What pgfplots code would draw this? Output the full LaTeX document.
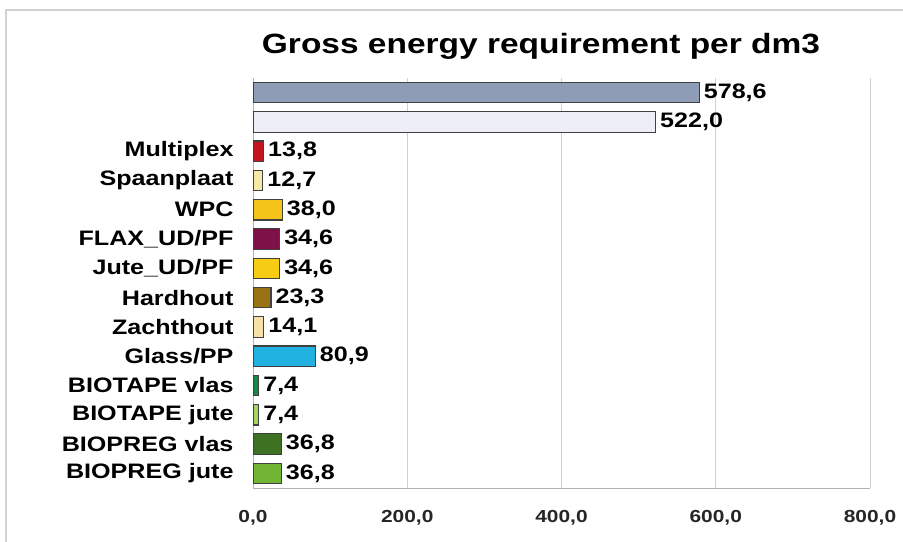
\documentclass[border=0pt]{standalone}
\usepackage{fontspec}
\setmainfont[FakeStretch=1.2]{Liberation Sans}
\usepackage{pgfplots}
\pgfplotsset{compat=1.18}
\definecolor{c1}{HTML}{8E9CB6}
\definecolor{c2}{HTML}{EEEEF8}
\definecolor{c3}{HTML}{C4141E}
\definecolor{c4}{HTML}{F6E8A6}
\definecolor{c5}{HTML}{F5C41A}
\definecolor{c6}{HTML}{7C1248}
\definecolor{c7}{HTML}{F6CC14}
\definecolor{c8}{HTML}{9A7214}
\definecolor{c9}{HTML}{F6E2A4}
\definecolor{c10}{HTML}{22B2E2}
\definecolor{c11}{HTML}{1C8444}
\definecolor{c12}{HTML}{A6D468}
\definecolor{c13}{HTML}{3C7222}
\definecolor{c14}{HTML}{72B434}
\newcommand{\onebar}[3]{\addplot[fill=#1, draw=black!75, line width=1.2bp] coordinates {(#3,#2)};}
\begin{document}
\begin{tikzpicture}
\useasboundingbox (0,0) rectangle (903bp,542bp);
\fill[white] (0,0) rectangle (903bp,542bp);
\draw[black!18, line width=1.5bp] (6bp,0) -- (6bp,532bp) -- (903bp,532bp);
\node[font=\fontsize{28}{32}\selectfont\bfseries] at (541bp,496bp) {Gross energy requirement per dm3};
\begin{axis}[
  at={(253bp,54bp)}, anchor=south west,
  scale only axis, width=617bp, height=410bp,
  xbar, bar width=0.7, bar shift=0pt,
  xmin=0, xmax=800, ymin=-0.5, ymax=13.5,
  y dir=reverse,
  xtick={0,200,400,600,800},
  ytick={0,...,13},
  yticklabels={{},{},Multiplex,Spaanplaat,WPC,FLAX\_UD/PF,Jute\_UD/PF,Hardhout,Zachthout,Glass/PP,BIOTAPE vlas,BIOTAPE jute,BIOPREG vlas,BIOPREG jute},
  major tick length=0pt,
  xmajorgrids, grid style={black!18, line width=1bp},
  axis x line*=bottom, axis y line*=left,
  axis line style={black!30, line width=1bp},
  /pgf/number format/assume math mode=true,
  xticklabel={\pgfmathprintnumber[fixed,fixed zerofill,precision=1,use comma]{\tick}},
  xticklabel style={font=\fontsize{17.5}{19}\selectfont\bfseries, yshift=-19bp, text=black!85},
  yticklabel style={font=\fontsize{21}{23}\selectfont\bfseries, xshift=-16bp, text=black},
  point meta=x,
  nodes near coords={\pgfmathprintnumber[fixed,fixed zerofill,precision=1,use comma]{\pgfplotspointmeta}},
  every node near coord/.append style={font=\fontsize{21}{23}\selectfont\bfseries, text=black, inner sep=2bp, xshift=2bp},
]
\onebar{c1}{0}{578.6}
\onebar{c2}{1}{522.0}
\onebar{c3}{2}{13.8}
\onebar{c4}{3}{12.7}
\onebar{c5}{4}{38.0}
\onebar{c6}{5}{34.6}
\onebar{c7}{6}{34.6}
\onebar{c8}{7}{23.3}
\onebar{c9}{8}{14.1}
\onebar{c10}{9}{80.9}
\onebar{c11}{10}{7.4}
\onebar{c12}{11}{7.4}
\onebar{c13}{12}{36.8}
\onebar{c14}{13}{36.8}
\end{axis}
\end{tikzpicture}
\end{document}
